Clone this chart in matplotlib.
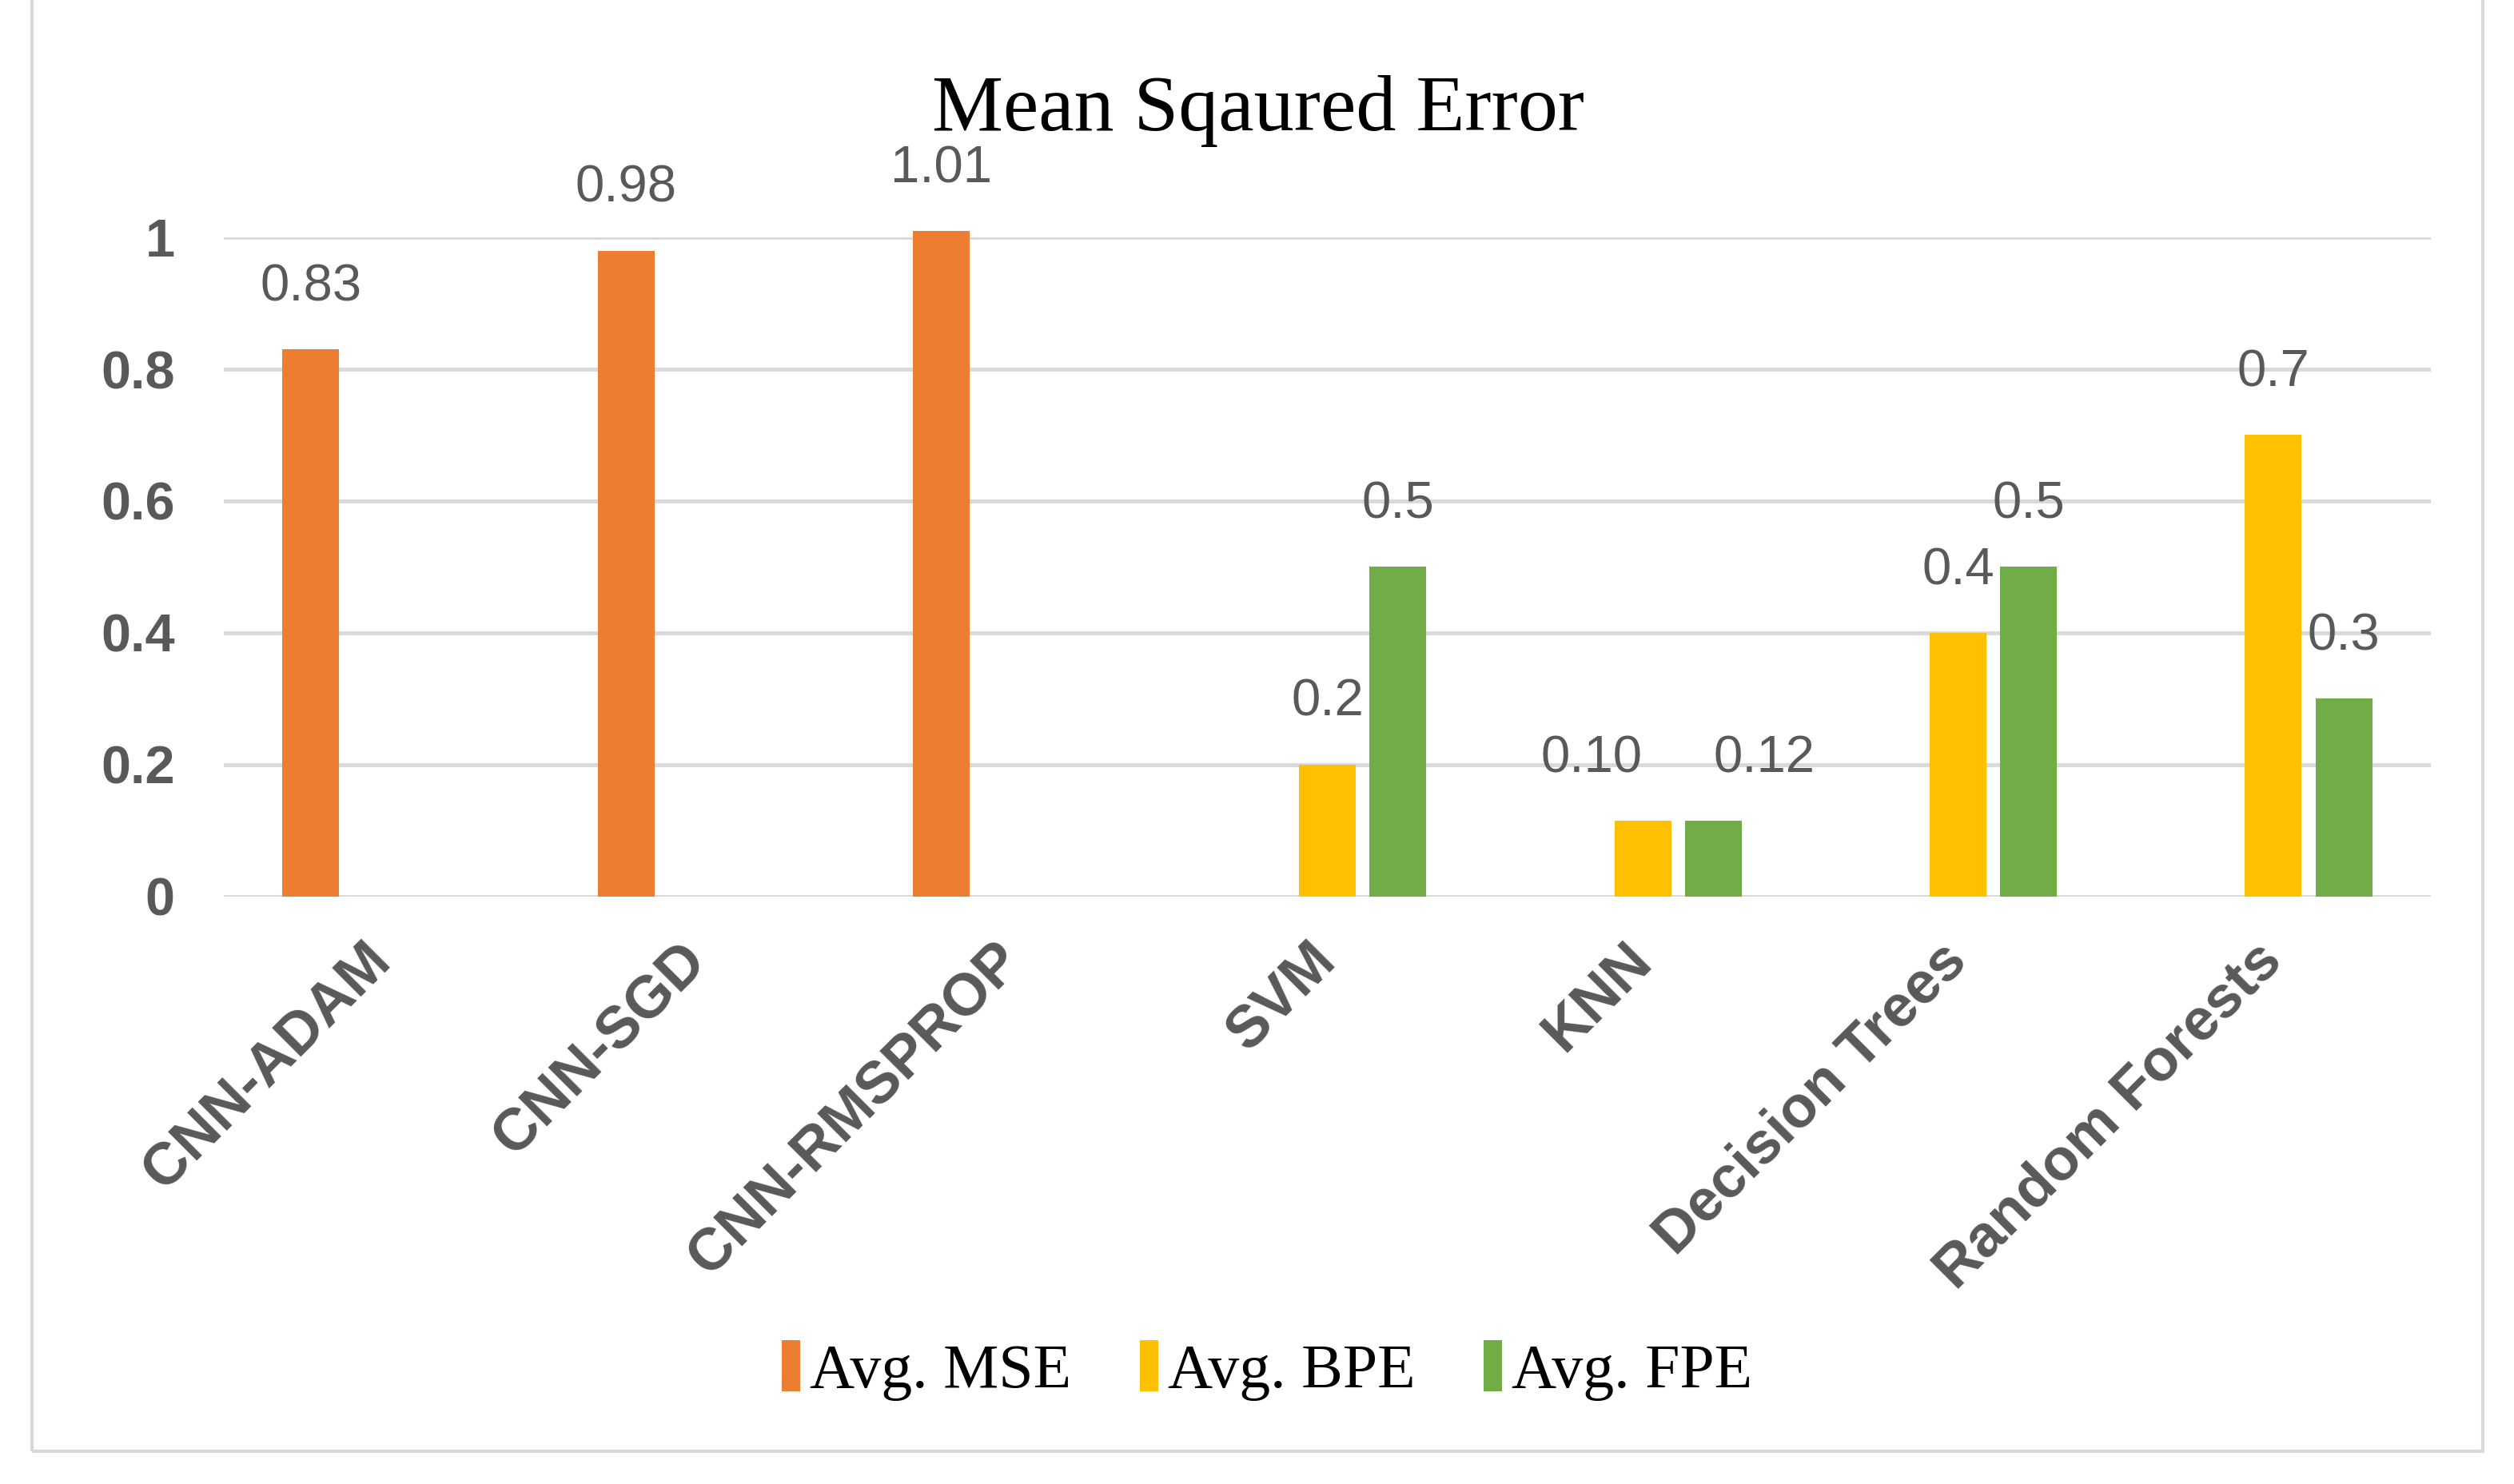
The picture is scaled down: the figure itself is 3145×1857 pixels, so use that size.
import numpy as np
import matplotlib as mpl
from matplotlib import pyplot as plt
from matplotlib.patches import Rectangle

categories = ['CNN-ADAM', 'CNN-SGD', 'CNN-RMSPROP', 'SVM', 'KNN',
              'Decision Trees', 'Random Forests']

avg_mse = [0.83, 0.98, 1.01, 0, 0, 0, 0]
avg_bpe = [0, 0, 0, 0.2, 0.115, 0.4, 0.7]
avg_fpe = [0, 0, 0, 0.5, 0.115, 0.5, 0.3]

mse_labels = ['0.83', '0.98', '1.01', '', '', '', '']
bpe_labels = ['', '', '', '0.2', '0.10', '0.4', '0.7']
fpe_labels = ['', '', '', '0.5', '0.12', '0.5', '0.3']

y_ticks = [0, 0.2, 0.4, 0.6, 0.8, 1]
y_tick_labels = ['0', '0.2', '0.4', '0.6', '0.8', '1']

gray = '#595959'
sans = 'Liberation Sans'
serif = 'Liberation Serif'

fig = plt.figure(figsize=(31.45, 18.57), dpi=100)
ax = fig.add_axes([0.089, 0.396, 0.878, 0.444])

x = np.arange(len(categories))
w = 0.18
step = 0.224
series = [(avg_mse, mse_labels, '#ED7D31', 'Avg. MSE', -step),
          (avg_bpe, bpe_labels, '#FFC000', 'Avg. BPE', 0),
          (avg_fpe, fpe_labels, '#70AD47', 'Avg. FPE', step)]

for vals, labs, col, name, off in series:
    ax.bar(x + off, vals, w, color=col, label=name, zorder=3, clip_on=False)
    for xi, v, lab in zip(x + off, vals, labs):
        if not lab:
            continue
        dx = 0
        # KNN labels are pushed apart in the original
        if categories[int(round(xi))] == 'KNN':
            dx = -46 if off == 0 else 46
        ax.annotate(lab, (xi, v), xytext=(dx, 56), textcoords='offset points',
                    ha='center', va='center', fontsize=47, color=gray,
                    family=sans, annotation_clip=False, zorder=4)

ax.set_xlim(-0.5, len(categories) - 0.5)
ax.set_ylim(0, 1)
ax.set_yticks(y_ticks)
ax.set_yticklabels(y_tick_labels, fontsize=48, color=gray, family=sans,
                   fontweight='bold')
ax.set_xticks(x)
ax.set_xticklabels(categories, rotation=45, ha='right', va='center',
                   rotation_mode='anchor', fontsize=53, color=gray,
                   family=sans, fontweight='bold')
ax.tick_params(axis='both', length=0)
ax.tick_params(axis='y', pad=44)
ax.tick_params(axis='x', pad=50)
ax.grid(axis='y', color='#d9d9d9', linewidth=3.5, zorder=0)
ax.set_axisbelow(True)
for s in ax.spines.values():
    s.set_visible(False)

fig.text(0.5005, 0.925, 'Mean Sqaured Error', ha='center', va='center',
         fontsize=72, family=serif, color='black')

fig.legend(loc='center', bbox_to_anchor=(0.504, 0.0765), ncol=3,
           frameon=False, prop={'family': serif, 'size': 56},
           handlelength=0.3, handleheight=0.9, handletextpad=0.15,
           columnspacing=1.1)

fig.patches.append(Rectangle((40 / 3145, 41 / 1857), 3066 / 3145, 1.0,
                             transform=fig.transFigure, fill=False,
                             edgecolor='#d9d9d9', linewidth=3))

fig.savefig('out.png', dpi=100, facecolor='white')
